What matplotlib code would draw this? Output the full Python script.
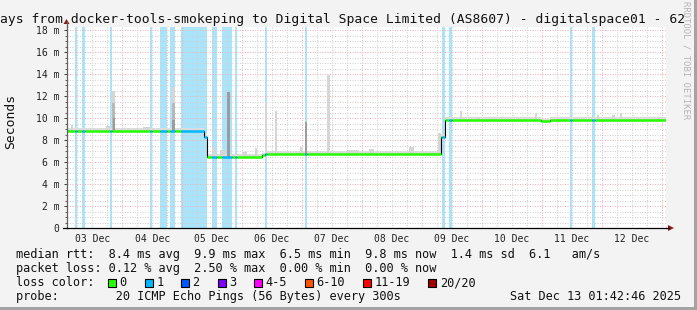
import matplotlib
matplotlib.use("Agg")
import matplotlib.pyplot as plt
import matplotlib.dates as mdates
from matplotlib.patches import Rectangle, Polygon
from matplotlib.lines import Line2D
import numpy as np
import pandas as pd

# ---------------- data ----------------
title = "ays from docker-tools-smokeping to Digital Space Limited (AS8607) - digitalspace01 - 62"
end_time = "2025-12-13 01:42:46"
span_days = 10
stamp_text = "Sat Dec 13 01:42:46 2025"

# median RTT (ms), step function: value i holds from time i to time i+1
median_times = ["2025-12-03 01:42", "2025-12-05 08:55", "2025-12-05 10:00",
                "2025-12-06 08:00", "2025-12-06 09:07", "2025-12-09 07:36",
                "2025-12-09 09:19", "2025-12-10 23:36", "2025-12-11 03:20",
                "2025-12-13 01:43"]
median_values = [8.85, 8.3, 6.48, 6.6, 6.77, 8.3, 9.82, 9.7, 9.82]

# periods with 1/20 packet loss
loss_starts = ["2025-12-03 05:18", "2025-12-03 08:06", "2025-12-03 19:18",
               "2025-12-04 11:18", "2025-12-04 15:18", "2025-12-04 19:18",
               "2025-12-04 23:42", "2025-12-05 12:06", "2025-12-05 16:06",
               "2025-12-05 21:18", "2025-12-06 09:18", "2025-12-07 01:18",
               "2025-12-09 08:06", "2025-12-09 10:54", "2025-12-11 11:18",
               "2025-12-11 20:06"]
loss_ends = ["2025-12-03 06:06", "2025-12-03 09:18", "2025-12-03 20:06",
             "2025-12-04 12:06", "2025-12-04 18:06", "2025-12-04 21:18",
             "2025-12-05 10:06", "2025-12-05 14:06", "2025-12-05 20:06",
             "2025-12-05 22:06", "2025-12-06 10:06", "2025-12-07 02:06",
             "2025-12-09 09:18", "2025-12-09 12:06", "2025-12-11 12:06",
             "2025-12-11 21:18"]

# smoke spikes (ms): start, end, top, shade (0 light .. 2 dark)
spike_starts = ["2025-12-03 03:20", "2025-12-03 17:30", "2025-12-03 20:06", "2025-12-03 20:06",
                "2025-12-03 20:30", "2025-12-04 08:30", "2025-12-04 20:06", "2025-12-04 20:06",
                "2025-12-04 20:06", "2025-12-05 12:06", "2025-12-05 15:00", "2025-12-05 18:06",
                "2025-12-06 00:30", "2025-12-06 05:00", "2025-12-06 09:18", "2025-12-06 13:18",
                "2025-12-06 23:00", "2025-12-07 01:18", "2025-12-07 10:06", "2025-12-07 18:00",
                "2025-12-08 03:00", "2025-12-08 19:00", "2025-12-09 06:20", "2025-12-09 15:18",
                "2025-12-09 22:06", "2025-12-10 21:18", "2025-12-11 22:06", "2025-12-12 04:06",
                "2025-12-12 07:18", "2025-12-12 22:30"]
spike_ends = ["2025-12-03 04:30", "2025-12-03 19:18", "2025-12-03 21:18", "2025-12-03 21:18",
              "2025-12-03 21:18", "2025-12-04 11:18", "2025-12-04 21:18", "2025-12-04 21:18",
              "2025-12-04 21:18", "2025-12-05 13:18", "2025-12-05 17:00", "2025-12-05 19:18",
              "2025-12-06 02:00", "2025-12-06 06:10", "2025-12-06 10:06", "2025-12-06 14:06",
              "2025-12-07 00:30", "2025-12-07 02:06", "2025-12-07 11:18", "2025-12-07 23:00",
              "2025-12-08 05:00", "2025-12-08 21:00", "2025-12-09 07:36", "2025-12-09 16:06",
              "2025-12-09 23:18", "2025-12-10 22:06", "2025-12-11 22:54", "2025-12-12 05:18",
              "2025-12-12 08:06", "2025-12-12 23:18"]
spike_tops = [9.4, 9.3, 12.5, 11.4, 10.0, 9.2, 12.8, 11.4, 9.8, 7.3, 7.1, 12.4,
              6.9, 7.3, 11.5, 10.6, 7.4, 9.6, 13.9, 7.1, 7.2, 7.4, 8.6, 10.6,
              10.1, 10.5, 10.3, 10.3, 10.5, 10.1]
spike_shades = [0, 0, 0, 1, 2, 0, 0, 1, 2, 0, 0, 2,
                0, 0, 0, 0, 0, 2, 0, 0, 0, 0, 0, 0,
                0, 0, 0, 0, 0, 0]

day_labels = ["03 Dec", "04 Dec", "05 Dec", "06 Dec", "07 Dec",
              "08 Dec", "09 Dec", "10 Dec", "11 Dec", "12 Dec"]
day_label_times = ["2025-12-%02d 12:00" % d for d in range(3, 13)]
y_ticks = [0, 2, 4, 6, 8, 10, 12, 14, 16, 18]

legend_rows = [
    "median rtt:  8.4 ms avg  9.9 ms max  6.5 ms min  9.8 ms now  1.4 ms sd  6.1   am/s",
    "packet loss: 0.12 % avg  2.50 % max  0.00 % min  0.00 % now",
]
loss_labels = ["0", "1", "2", "3", "4-5", "6-10", "11-19", "20/20"]
loss_colors = ["#26ff00", "#00b8ff", "#0059ff", "#7e00ff", "#ff00ff", "#ff5500", "#ff0000", "#a10000"]
probe_text = "probe:        20 ICMP Echo Pings (56 Bytes) every 300s"

# ---------------- drawing ----------------
W, H, DPI = 697, 310, 100
MONO = "DejaVu Sans Mono"
plt.rcParams["font.family"] = [MONO]

def fx(x):
    return x / W

def fy(y):
    return 1 - y / H

def d2n(s):
    return mdates.date2num(pd.Timestamp(s).to_pydatetime())

fig = plt.figure(figsize=(W / DPI, H / DPI), dpi=DPI, facecolor="#f3f3f3")

X0, X1, Y0, YT = 66.5, 666.0, 228.0, 26.5
PX_PER_MS = 11.0
ax = fig.add_axes([fx(X0), fy(Y0), (X1 - X0) / W, (Y0 - YT) / H])
ax.set_facecolor("white")

t_end = pd.Timestamp(end_time)
t_start = t_end - pd.Timedelta(days=span_days)
ax.set_xlim(d2n(t_start), d2n(t_end))
ax.set_ylim(0, (Y0 - YT) / PX_PER_MS)

# loss background bands
band_color = "#a9e4fb"
for s, e in zip(loss_starts, loss_ends):
    ax.axvspan(d2n(s), d2n(e), color=band_color, lw=0, zorder=0.5)

# grid
RED = "#f0b0b0"
GREY = "#d0d0d0"
dot = (0, (1, 1.5))
for v in np.arange(0.5, ax.get_ylim()[1], 0.5):
    major = abs(v % 2) < 1e-9
    ax.axhline(v, color=RED if major else GREY, lw=0.72, ls=dot, zorder=1, snap=True)
t = pd.Timestamp("2025-12-03 00:00")
while t <= t_end:
    if t > t_start:
        major = t.hour == 0
        ax.axvline(d2n(t), color=RED if major else GREY, lw=0.72, ls=dot, zorder=1,
                   snap=True)
    t += pd.Timedelta(hours=6)

# smoke
mt = [d2n(s) for s in median_times]
mv = list(median_values) + [median_values[-1]]
ax.fill_between(mt, np.array(mv) - 0.05, np.array(mv) + 0.25, step="post",
                color="#dcdcdc", lw=0, zorder=2)

def median_at(x):
    idx = np.searchsorted(mt, x, side="right") - 1
    idx = min(max(idx, 0), len(median_values) - 1)
    return median_values[idx]

shade_colors = {0: "#d6d6d6", 1: "#b9b9b9", 2: "#9c9c9c"}
for s, e, top, sh in zip(spike_starts, spike_ends, spike_tops, spike_shades):
    a, b = d2n(s), d2n(e)
    base = median_at(a)
    ax.bar(a, top - base, bottom=base, width=b - a, align="edge",
           color=shade_colors[sh], lw=0, zorder=2 + sh * 0.1)

# median line: black step for transitions, coloured by loss on top
ax.step(mt, mv, where="post", color="black", lw=0.8, zorder=3)
bounds = sorted(set(mt + [d2n(s) for s in loss_starts] + [d2n(e) for e in loss_ends]))
bounds = [b for b in bounds if mt[0] <= b <= mt[-1]]
ls_n = [d2n(s) for s in loss_starts]
le_n = [d2n(e) for e in loss_ends]
for a, b in zip(bounds[:-1], bounds[1:]):
    mid = 0.5 * (a + b)
    in_loss = any(s <= mid < e for s, e in zip(ls_n, le_n))
    ax.hlines(median_at(mid), a, b, color=loss_colors[1] if in_loss else loss_colors[0],
              lw=1.8, zorder=4, capstyle="butt")

# axes styling
for side in ["top", "right"]:
    ax.spines[side].set_visible(False)
ax.spines["left"].set_color("#606060")
ax.spines["left"].set_linewidth(0.9)
ax.spines["bottom"].set_color("black")
ax.spines["bottom"].set_linewidth(0.9)
ax.spines["left"].set_zorder(5)
ax.spines["bottom"].set_zorder(5)

ax.set_yticks(y_ticks)
ax.set_yticklabels(["0" if v == 0 else "%d m" % v for v in y_ticks])
ax.set_yticks(np.arange(0, ax.get_ylim()[1], 0.5), minor=True)
ax.tick_params(axis="y", which="major", length=2.5, width=0.72, color="#404040",
               pad=2.6, labelsize=7, labelcolor="#202020")
ax.tick_params(axis="y", which="minor", length=1.2, width=0.72, color="#606060")
ax.set_xticks([d2n(s) for s in day_label_times])
ax.set_xticklabels(day_labels)
ax.xaxis.set_minor_locator(matplotlib.ticker.NullLocator())
ax.tick_params(axis="x", length=0, pad=4.0, labelsize=7, labelcolor="#202020")

# axis extensions and arrows
fig.add_artist(Line2D([fx(X0), fx(X0)], [fy(YT), fy(21)], transform=fig.transFigure,
                      color="#606060", lw=0.9))
fig.add_artist(Polygon([[fx(63.5), fy(24)], [fx(69.5), fy(24)], [fx(66.5), fy(19)]],
                       closed=True, transform=fig.transFigure, color="#8b1a1a", lw=0))
fig.add_artist(Line2D([fx(63), fx(X0)], [fy(Y0), fy(Y0)], transform=fig.transFigure,
                      color="black", lw=0.9))
fig.add_artist(Line2D([fx(X1), fx(669)], [fy(Y0), fy(Y0)], transform=fig.transFigure,
                      color="black", lw=0.9))
fig.add_artist(Polygon([[fx(668), fy(225)], [fx(668), fy(231)], [fx(674), fy(228)]],
                       closed=True, transform=fig.transFigure, color="#8b1a1a", lw=0))

# texts
fig.text(fx(0.5), fy(23.3), title, fontsize=9.4, color="#111111", ha="left", va="baseline")
fig.text(fx(11), fy(121.5), "Seconds", fontsize=9.4, rotation=90, ha="center",
         va="center", color="#111111")
fig.text(fx(686), fy(1), "RRDTOOL / TOBI OETIKER", fontsize=6.4, rotation=270,
         ha="center", va="top", color="#b5b5b5")

LFS = 8.55
CW = 7.15
for i, row in enumerate(legend_rows):
    fig.text(fx(16), fy(258.3 + 14 * i), row, fontsize=LFS, ha="left", va="baseline",
             color="#111111")
fig.text(fx(16), fy(286.3), "loss color:", fontsize=LFS, ha="left", va="baseline",
         color="#111111")
x = 108.0
for lab, col in zip(loss_labels, loss_colors):
    fig.add_artist(Rectangle((fx(x), fy(286.5)), 8 / W, 8 / H, transform=fig.transFigure,
                             facecolor=col, edgecolor="black", lw=0.8))
    fig.text(fx(x + 11.5), fy(286.3), lab, fontsize=LFS, ha="left", va="baseline",
             color="#111111")
    x += 12 + len(lab) * CW + 17.4
fig.text(fx(16), fy(300), probe_text, fontsize=LFS, ha="left", va="baseline", color="#111111")
fig.text(fx(681), fy(300), stamp_text, fontsize=LFS, ha="right", va="baseline", color="#111111")

# frame
fig.add_artist(Rectangle((fx(694), 0), 3 / W, 1, transform=fig.transFigure,
                         facecolor="#a3a3a3", lw=0))
fig.add_artist(Rectangle((0, 0), 1, 3 / H, transform=fig.transFigure,
                         facecolor="#a3a3a3", lw=0))

fig.savefig("out.png", dpi=DPI, facecolor=fig.get_facecolor())
